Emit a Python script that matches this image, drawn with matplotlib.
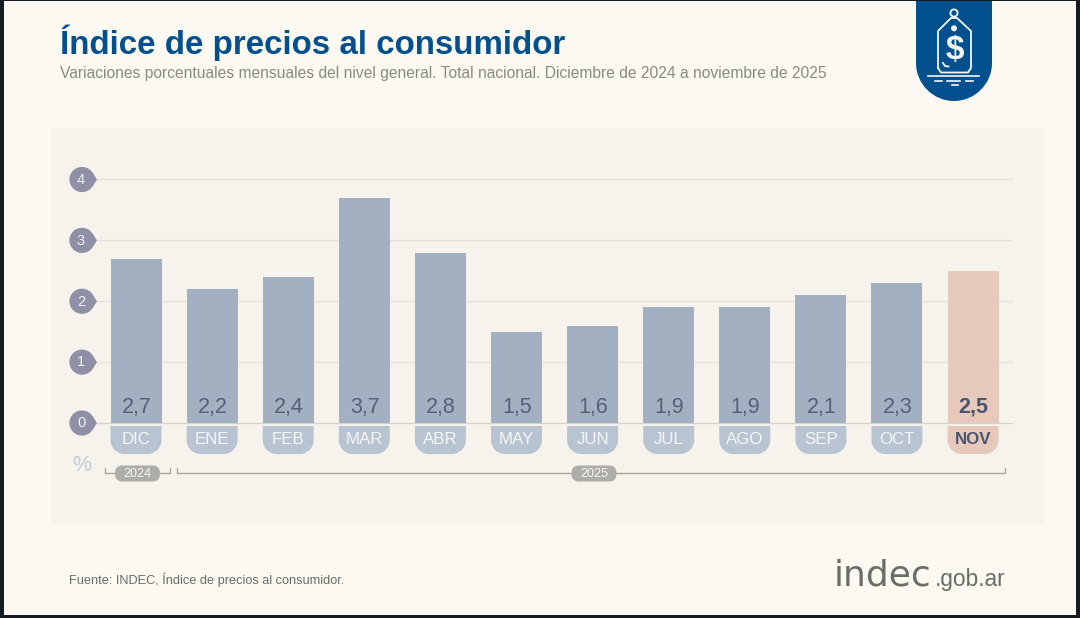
import math
import matplotlib
matplotlib.use("Agg")
import matplotlib.pyplot as plt
from matplotlib.patches import Rectangle, PathPatch, Circle, FancyBboxPatch
from matplotlib.path import Path

plt.rcParams['font.family'] = ['Liberation Sans', 'DejaVu Sans']

months = ["DIC", "ENE", "FEB", "MAR", "ABR", "MAY", "JUN", "JUL", "AGO", "SEP", "OCT", "NOV"]
values = [2.7, 2.2, 2.4, 3.7, 2.8, 1.5, 1.6, 1.9, 1.9, 2.1, 2.3, 2.5]
value_labels = ["2,7", "2,2", "2,4", "3,7", "2,8", "1,5", "1,6", "1,9", "1,9", "2,1", "2,3", "2,5"]
y_ticks = [0, 1, 2, 3, 4]
title = "Índice de precios al consumidor"
subtitle = "Variaciones porcentuales mensuales del nivel general. Total nacional. Diciembre de 2024 a noviembre de 2025"
source = "Fuente: INDEC, Índice de precios al consumidor."

W, H = 1080, 618
BLUE = "#03508f"; BG = "#fbf9f2"; PANEL = "#f5f3ec"; BAR = "#a3b0c2"; BAR_HI = "#e6c9ba"
PILL = "#b9c4d2"; PILL_HI = "#e6c9ba"; TICK = "#8f90a6"; DARK = "#4b5470"; VAL = "#566079"; GRID = "#e2e0da"

fig = plt.figure(figsize=(W / 100, H / 100), dpi=100, facecolor="#141c22")

bg = fig.add_axes([0, 0, 1, 1], zorder=0)
bg.set_xlim(0, W); bg.set_ylim(H, 0); bg.axis("off")
bg.add_patch(Rectangle((4, 1), 1072, 614, fc=BG, ec="none"))
bg.add_patch(Rectangle((51, 128), 993, 396, fc=PANEL, ec="none"))

L, R, T, B = 97, 1012, 179.5, 423.0
X0, DX, BW = 136.0, 76.1, 51.0
ax = fig.add_axes([L / W, 1 - B / H, (R - L) / W, (B - T) / H], zorder=1)
ax.set_xlim((L - X0) / DX, (R - X0) / DX)
ax.set_ylim(0, 4)
ax.axis("off")
for t in y_ticks:
    ax.axhline(t, color=GRID if t else "#d4d2cb", lw=0.9, zorder=1, clip_on=False)
xs = list(range(len(months)))
cols = [BAR] * 11 + [BAR_HI]
ax.bar(xs, values, width=BW / DX, color=cols, zorder=2)

ov = fig.add_axes([0, 0, 1, 1], zorder=2)
ov.set_xlim(0, W); ov.set_ylim(H, 0); ov.axis("off"); ov.patch.set_alpha(0)


def pill(cx, top, bot, w, r, c):
    l, rr = cx - w / 2, cx + w / 2
    k = 0.55 * r
    vs = [(l, top), (rr, top), (rr, bot - r), (rr, bot - r + k), (rr - r + k, bot), (rr - r, bot),
          (l + r, bot), (l + r - k, bot), (l, bot - r + k), (l, bot - r), (l, top)]
    cd = [Path.MOVETO, Path.LINETO, Path.LINETO, Path.CURVE4, Path.CURVE4, Path.CURVE4,
          Path.LINETO, Path.CURVE4, Path.CURVE4, Path.CURVE4, Path.CLOSEPOLY]
    ov.add_patch(PathPatch(Path(vs, cd), fc=c, ec="none"))


for i, (m, lab) in enumerate(zip(months, value_labels)):
    cx = X0 + DX * i
    hi = i == 11
    pill(cx, 426, 454, BW, 14, PILL_HI if hi else PILL)
    ov.text(cx, 439, m, ha="center", va="center", fontsize=12.2, color=DARK if hi else "#f4f5f6",
            fontweight="bold" if hi else "normal")
    ov.text(cx + 0.5, 407.5, lab, ha="center", va="center", fontsize=15.5, color=DARK if hi else VAL,
            fontweight="bold" if hi else "normal")

# y-axis drops: a circle with tangents meeting at a tip
RAD, CXD, TIP = 12.6, 82.0, 97.0
ang = math.acos(RAD / (TIP - CXD))
for t in y_ticks:
    y = B - (B - T) * t / 4
    ov.add_patch(Circle((CXD, y), RAD, fc=TICK, ec="none", zorder=3))
    dx, dy = RAD * math.cos(ang), RAD * math.sin(ang)
    ov.add_patch(PathPatch(Path([(CXD + dx, y - dy), (TIP, y), (CXD + dx, y + dy), (CXD, y), (CXD + dx, y - dy)],
                                [Path.MOVETO, Path.LINETO, Path.LINETO, Path.LINETO, Path.CLOSEPOLY]),
                           fc=TICK, ec="none", zorder=3))
    ov.text(CXD - 1, y + 0.3, str(t), ha="center", va="center", fontsize=10.5, color="#f1f1f3", zorder=4)

ov.text(82, 465.5, "%", ha="center", va="center", fontsize=15.5, color="#c2cad6")

BR = "#a8a59d"
ov.plot([104.5, 104.5, 170, 170], [468, 473, 473, 468], color=BR, lw=1)
ov.plot([177, 177, 1005, 1005], [468, 473, 473, 468], color=BR, lw=1)
for cx, w, s in [(137.5, 45, "2024"), (594, 45, "2025")]:
    ov.add_patch(FancyBboxPatch((cx - w / 2 + 7.5, 473), w - 15, 1,
                                boxstyle="round,pad=7.5,rounding_size=7.5", fc="#aeaca6", ec="none", zorder=3))
    ov.text(cx, 473.8, s, ha="center", va="center", fontsize=9, color="#f6f5f1", zorder=4)

ov.text(60, 53.8, title, ha="left", va="baseline", fontsize=23.85, fontweight="bold", color=BLUE)
ov.text(60.5, 78, subtitle, ha="left", va="baseline", fontsize=11.24, color="#8a8a84")
ov.text(69, 584, source, ha="left", va="baseline", fontsize=9.15, color="#6c6c68")

lx, rx, ty, by = 916, 992, 1, 101
r = 38
k = 0.55 * r
ov.add_patch(PathPatch(Path([(lx, ty), (rx, ty), (rx, by - r), (rx, by - r + k), (rx - r + k, by), (rx - r, by),
                             (lx + r - k, by), (lx, by - r + k), (lx, by - r), (lx, ty)],
                            [Path.MOVETO, Path.LINETO, Path.LINETO, Path.CURVE4, Path.CURVE4, Path.CURVE4,
                             Path.CURVE4, Path.CURVE4, Path.CURVE4, Path.CLOSEPOLY]), fc=BLUE, ec="none"))
WH = "#f4f6f8"
ov.plot([938, 938, 951, 957, 971, 971, 968, 941, 938], [68, 31, 18, 18, 31, 68, 72.5, 72.5, 68],
        color=WH, lw=1.3, zorder=5)
ov.add_patch(Circle((954, 13), 3.6, fc="none", ec=WH, lw=1.3, zorder=5))
ov.add_patch(Circle((954, 28.3), 3.0, fc=WH, ec="none", zorder=5))
ov.text(954.5, 50, "$", ha="center", va="center", fontsize=24, fontweight="bold", color=WH, zorder=5)
ov.plot([948.5, 945, 943], [66.5, 66, 63], color=WH, lw=1.3, zorder=5)
for x0, x1, y in [(928, 979, 76), (935, 942, 80.5), (947, 960, 80.5), (966, 973, 80.5), (951.5, 958, 85)]:
    ov.plot([x0, x1], [y, y], color=WH, lw=1.2, zorder=5)

ov.text(834, 586, "indec", ha="left", va="baseline", fontsize=26, family="DejaVu Sans", color="#6c6c68", zorder=5)
ov.text(935, 586, ".gob.ar", ha="left", va="baseline", fontsize=16.4, color="#6c6c68", zorder=5)

fig.savefig("out.png", dpi=100, facecolor=fig.get_facecolor())
